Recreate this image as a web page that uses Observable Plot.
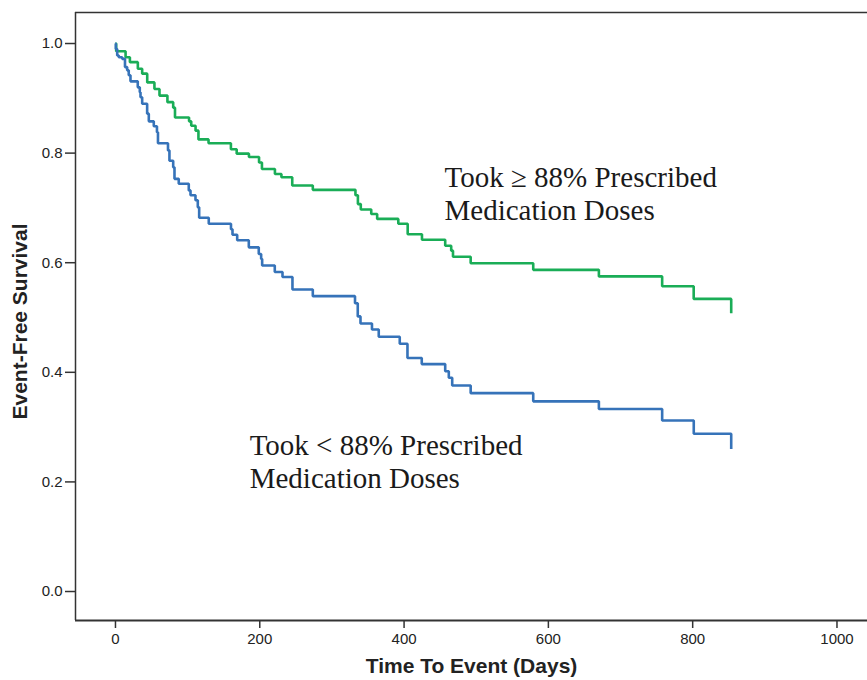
<!DOCTYPE html>
<html><head><meta charset="utf-8">
<script src="https://cdn.jsdelivr.net/npm/d3@7"></script>
<script src="https://cdn.jsdelivr.net/npm/@observablehq/plot@0.6"></script>
<style>body{margin:0;background:#fff}</style>
</head><body><div id="chart"></div>
<script>
// Took >= 88% prescribed doses (green)
const greenDays = [0, 1, 14, 20, 31, 37, 44, 54, 61, 72, 80, 82.5, 102, 105, 111, 115, 129, 160, 168, 185, 199, 203, 221, 230, 245, 273.5, 332.6, 336, 340, 354.5, 362.7, 392, 405, 424.8, 457, 465.3, 467.8, 492.3, 579, 670, 757.7, 801.4, 853.4];
const greenSurv = [1.0, 0.986, 0.975, 0.966, 0.954, 0.945, 0.929, 0.917, 0.905, 0.893, 0.883, 0.865, 0.858, 0.850, 0.841, 0.825, 0.818, 0.807, 0.799, 0.793, 0.783, 0.771, 0.762, 0.756, 0.741, 0.733, 0.723, 0.707, 0.697, 0.689, 0.680, 0.671, 0.652, 0.642, 0.631, 0.622, 0.611, 0.599, 0.587, 0.575, 0.557, 0.534, 0.508];
// Took < 88% prescribed doses (blue)
const blueDays = [0, 0.5, 2.4, 4.6, 9.3, 13.2, 16.2, 18.4, 20.8, 30.9, 33.7, 34.7, 37, 43.9, 46.2, 53.1, 57.5, 58.9, 72.8, 74.8, 80, 81.8, 87.7, 101.6, 104, 110.9, 114.1, 116, 129.3, 160.1, 162.2, 168.7, 184.8, 198.6, 201.9, 203.3, 220.8, 231.5, 245.3, 273.5, 332, 335.8, 339.6, 355.5, 364.9, 394, 404.7, 424.5, 457, 462, 466.7, 492.3, 579, 670, 757.7, 801.5, 853.4];
const blueSurv = [1.0, 0.990, 0.978, 0.975, 0.972, 0.957, 0.951, 0.942, 0.931, 0.920, 0.911, 0.902, 0.890, 0.872, 0.858, 0.849, 0.838, 0.818, 0.805, 0.786, 0.774, 0.753, 0.744, 0.732, 0.723, 0.714, 0.701, 0.682, 0.671, 0.661, 0.651, 0.641, 0.628, 0.616, 0.607, 0.595, 0.583, 0.574, 0.551, 0.539, 0.526, 0.502, 0.489, 0.478, 0.465, 0.452, 0.426, 0.415, 0.402, 0.390, 0.376, 0.362, 0.347, 0.333, 0.312, 0.288, 0.260];

const xTicks = [0, 200, 400, 600, 800, 1000];
const yTicks = [0, 0.2, 0.4, 0.6, 0.8, 1.0];
const xTitle = "Time To Event (Days)";
const yTitle = "Event-Free Survival";
const labelText = ["Took \u2265 88% Prescribed\nMedication Doses", "Took < 88% Prescribed\nMedication Doses"];
const labelDay = [456, 186];
const labelSurv = [0.781, 0.291];
const colors = ["#1aad57", "#3673b9"];

const green = greenDays.map((d, i) => ({day: d, surv: greenSurv[i]}));
const blue = blueDays.map((d, i) => ({day: d, surv: blueSurv[i]}));
const labels = labelText.map((t, i) => ({text: t, day: labelDay[i], surv: labelSurv[i]}));

const xDom = [-55.4, 1042.3];
const yDom = [-0.0529, 1.0566];

const chart = Plot.plot({
  width: 867, height: 680,
  marginLeft: 75, marginRight: 0, marginTop: 12, marginBottom: 60,
  x: {domain: xDom},
  y: {domain: yDom},
  style: {fontFamily: "'Liberation Sans', Arial, sans-serif", fontSize: "15px", color: "#222", background: "#fff"},
  marks: [
    Plot.axisX({ticks: xTicks, tickSize: 8, tickPadding: 5, tickFormat: "d", label: null, stroke: "#333", strokeWidth: 1.5, fontSize: 15}),
    Plot.axisY({ticks: yTicks, tickSize: 10, tickPadding: 3, tickFormat: ".1f", label: null, stroke: "#333", strokeWidth: 1.5, fontSize: 15}),
    Plot.ruleY([yDom[0]], {stroke: "#333", strokeWidth: 2}),
    Plot.ruleY([yDom[1]], {stroke: "#333", strokeWidth: 1.5}),
    Plot.ruleX([xDom[0]], {stroke: "#333", strokeWidth: 1.5}),
    Plot.line(green, {x: "day", y: "surv", curve: "step-after", stroke: colors[0], strokeWidth: 2.6, strokeLinejoin: "miter", strokeLinecap: "butt"}),
    Plot.line(blue, {x: "day", y: "surv", curve: "step-after", stroke: colors[1], strokeWidth: 2.6, strokeLinejoin: "miter", strokeLinecap: "butt"}),
    Plot.text(labels, {x: "day", y: "surv", text: "text", textAnchor: "start", lineAnchor: "top", lineHeight: 1.13, fontSize: 29, fontFamily: "'Liberation Serif', 'Times New Roman', serif", fill: "#1a1a1a"}),
    Plot.text([xTitle], {text: d => d, frameAnchor: "bottom", textAnchor: "middle", dy: 52, fontSize: 21, fontWeight: "bold", fill: "#222"}),
    Plot.text([yTitle], {text: d => d, frameAnchor: "left", textAnchor: "middle", dx: -55, dy: 5, rotate: -90, fontSize: 21, fontWeight: "bold", fill: "#222"})
  ]
});
document.getElementById("chart").appendChild(chart);
</script>
</body></html>
